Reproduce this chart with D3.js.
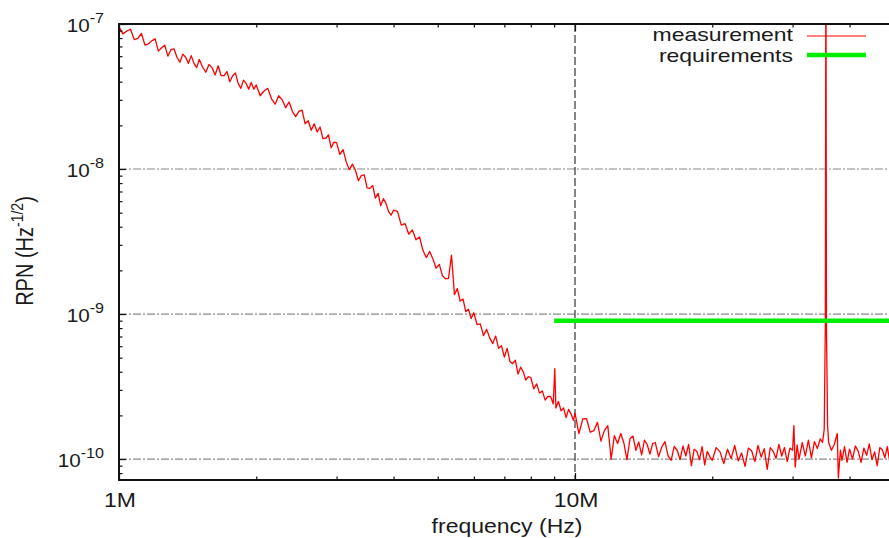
<!DOCTYPE html>
<html><head><meta charset="utf-8">
<script src="https://cdn.jsdelivr.net/npm/d3@7"></script>
<style>body{margin:0;background:#fff;} svg{display:block;}</style>
</head><body><svg id="c" width="889" height="538"></svg>
<script>
// ---- data (frequency in MHz, RPN in Hz^-1/2) ----
const freqMHz = [
  1.00,1.02,1.04,1.06,1.08,1.10,1.12,1.14,1.16,1.18,1.20,1.22,1.24,1.26,1.28,1.30,1.32,1.34,1.36,1.38,1.40,1.42,1.44,1.46,1.48,
  1.500,1.525,1.550,1.575,1.600,1.625,1.650,1.675,1.700,1.725,1.750,1.775,1.800,1.825,1.850,1.875,1.900,1.925,1.950,1.975,
  2.00,2.04,2.08,2.12,2.16,2.20,2.24,2.28,2.32,2.36,2.40,2.44,2.48,2.52,2.56,2.60,2.64,2.68,2.72,2.76,2.80,2.84,2.88,2.92,2.96,
  3.00,3.05,3.10,3.15,3.20,3.25,3.30,3.35,3.40,3.45,3.50,3.55,3.60,3.65,3.70,3.75,3.80,3.85,3.90,3.95,
  4.00,4.08,4.16,4.24,4.32,4.40,4.48,4.56,4.64,4.72,4.80,4.88,4.96,5.04,5.12,5.20,5.28,5.36,5.44,5.52,5.60,5.68,5.76,5.84,5.92,
  6.0,6.1,6.2,6.3,6.4,6.5,6.6,6.7,6.8,6.9,7.0,7.1,7.2,7.3,7.4,7.5,7.6,7.7,7.8,7.9,
  8.00,8.12,8.24,8.36,8.48,8.60,8.72,8.84,8.96,9.03,9.08,9.20,9.32,9.44,9.56,9.68,9.80,9.92,
  10.0,10.2,10.4,10.6,10.8,11.0,11.2,11.4,11.6,11.8,12.0,12.2,12.4,12.6,12.8,13.0,13.2,13.4,13.6,13.8,14.0,14.2,14.4,14.6,14.8,
  15.00,15.25,15.50,15.75,16.00,16.25,16.50,16.75,17.00,17.25,17.50,17.75,18.00,18.25,18.50,18.75,19.00,19.25,19.50,19.75,
  20.0,20.4,20.8,21.2,21.6,22.0,22.4,22.8,23.2,23.6,24.0,24.4,24.8,25.2,25.6,26.0,26.4,26.8,27.2,27.6,28.0,28.4,28.8,29.2,29.6,
  30.0,30.2,30.4,30.7,31.0,31.5,32.0,32.5,33.0,33.5,34.0,34.5,34.9,35.2,35.4,35.5,35.6,35.8,36.0,36.5,37.0,37.6,37.8,38.2,38.5,39.0,39.5,
  40.0,40.6,41.2,41.8,42.4,43.0,43.6,44.2,44.8,45.4,46.0,46.6,47.2,47.8,48.4,49.0,49.6
];
const rpn = [
  9.55e-8,8.55e-8,8.95e-8,9.2e-8,7.8e-8,7.95e-8,8.6e-8,7.15e-8,7.3e-8,7.65e-8,7.9e-8,6.5e-8,6.85e-8,7.15e-8,6.0e-8,6.65e-8,6.75e-8,5.9e-8,5.45e-8,6.2e-8,5.9e-8,5.35e-8,6.05e-8,5.35e-8,5.0e-8,
  5.7e-8,5.05e-8,4.65e-8,5.25e-8,5.0e-8,4.45e-8,5.15e-8,4.4e-8,4.4e-8,4.7e-8,4.0e-8,4.4e-8,4.6e-8,3.9e-8,3.6e-8,4.1e-8,3.9e-8,3.55e-8,3.95e-8,3.55e-8,
  3.8e-8,3.2e-8,3.45e-8,3.6e-8,3.05e-8,2.8e-8,3.2e-8,3.0e-8,2.65e-8,2.9e-8,2.5e-8,2.3e-8,2.5e-8,2.55e-8,2.05e-8,2.15e-8,1.85e-8,2.05e-8,1.8e-8,1.95e-8,1.62e-8,1.63e-8,1.72e-8,1.4e-8,1.53e-8,
  1.52e-8,1.26e-8,1.36e-8,1.12e-8,9.9e-9,1.08e-8,9.8e-9,8.3e-9,9.0e-9,9.1e-9,7.4e-9,7.35e-9,7.7e-9,6.3e-9,6.8e-9,5.6e-9,6.25e-9,5.8e-9,5.1e-9,4.8e-9,
  5.2e-9,5.1e-9,4.1e-9,4.2e-9,3.55e-9,3.8e-9,3.25e-9,3.4e-9,2.75e-9,2.45e-9,2.7e-9,2.4e-9,2.07e-9,2.2e-9,1.84e-9,1.75e-9,1.76e-9,2.55e-9,1.36e-9,1.5e-9,1.23e-9,1.27e-9,1.04e-9,1.08e-9,9.3e-10,
  1.02e-9,8.45e-10,8.55e-10,7.1e-10,7.85e-10,6.85e-10,6.25e-10,7.05e-10,5.8e-10,6.05e-10,5.05e-10,5.8e-10,4.7e-10,4.55e-10,4.8e-10,3.85e-10,4.3e-10,4.0e-10,3.5e-10,3.7e-10,
  3.65e-10,3.05e-10,3.3e-10,2.85e-10,2.95e-10,2.55e-10,2.7e-10,2.7e-10,2.4e-10,4.2e-10,2.25e-10,2.5e-10,2.15e-10,2.25e-10,1.93e-10,2.2e-10,2.05e-10,1.85e-10,
  2.07e-10,1.5e-10,1.89e-10,1.9e-10,1.53e-10,1.57e-10,1.79e-10,1.33e-10,1.57e-10,1.7e-10,1.0e-10,1.45e-10,1.28e-10,1.5e-10,1.29e-10,9.9e-11,1.38e-10,1.44e-10,1.15e-10,1.31e-10,1.07e-10,1.35e-10,1.26e-10,1.08e-10,1.28e-10,
  1.3e-10,1.04e-10,1.21e-10,1.32e-10,1.05e-10,9.8e-11,1.22e-10,1.15e-10,9.9e-11,1.23e-10,1.05e-10,1.26e-10,9.0e-11,1.17e-10,1.13e-10,9.9e-11,1.22e-10,9.1e-11,1.13e-10,1.04e-10,
  9.8e-11,1.2e-10,1.12e-10,9.3e-11,1.17e-10,1.01e-10,1.24e-10,9.7e-11,1.1e-10,8.9e-11,1.19e-10,1.14e-10,9.6e-11,1.24e-10,1.03e-10,1.18e-10,8.5e-11,1.2e-10,1.13e-10,1.01e-10,1.26e-10,1.05e-10,1.2e-10,9.6e-11,1.19e-10,
  1.15e-10,1.7e-10,8.8e-11,1.25e-10,1.0e-10,1.3e-10,1.05e-10,1.35e-10,1.02e-10,1.32e-10,1.18e-10,1.38e-10,1.3e-10,1.6e-10,8.5e-10,5e-7,8.3e-10,1.7e-10,1.3e-10,1.15e-10,1.25e-10,1.5e-10,7.4e-11,1.15e-10,9.8e-11,1.22e-10,9.5e-11,
  1.17e-10,1.0e-10,1.23e-10,1.13e-10,9.5e-11,1.19e-10,1.06e-10,1.27e-10,9.9e-11,1.12e-10,9.0e-11,1.2e-10,1.16e-10,1.02e-10,1.22e-10,9.6e-11,1.14e-10
];
const reqFreqMHz = [9, 50];
const reqLevel = [9e-10, 9e-10];
const xTickValues = [1, 10];
const xTickLabels = ["1M", "10M"];
const yTickValues = [1e-7, 1e-8, 1e-9, 1e-10];
const yTickExponents = ["-7", "-8", "-9", "-10"];
const legendLabels = ["measurement", "requirements"];
const xTitle = "frequency (Hz)";
const yTitleMain = "RPN (Hz", yTitleSup = "-1/2", yTitleEnd = ")";

// ---- layout ----
const W = 889, H = 538;
const L = 119, T = 24, B = 480;
const FONT = "'Liberation Sans', Arial, Helvetica, sans-serif";
const SX = 1.15; // horizontal stretch of the reference text
const svg = d3.select("#c");

const x = d3.scaleLog().domain([1, 50]).range([L, L + 456 * Math.log10(50)]);
const y = d3.scaleLog().domain([7.17e-11, 1e-7]).range([B, T]);

svg.append("defs").append("clipPath").attr("id", "clip")
  .append("rect").attr("x", L).attr("y", T).attr("width", W - L + 20).attr("height", B - T);

// grid
const grid = svg.append("g");
yTickValues.slice(1).forEach(v => {
  grid.append("line").attr("x1", L).attr("x2", W + 10).attr("y1", y(v)).attr("y2", y(v))
    .attr("stroke", "#8a8a8a").attr("stroke-width", 1.2).attr("stroke-dasharray", "8,2,2,2");
});
grid.append("line").attr("x1", x(10)).attr("x2", x(10)).attr("y1", T).attr("y2", B)
  .attr("stroke", "#333").attr("stroke-width", 1.2).attr("stroke-dasharray", "8,3");

// data
const pts = freqMHz.map((f, i) => [f, rpn[i]]);
const plot = svg.append("g").attr("clip-path", "url(#clip)");
plot.append("path").datum(pts)
  .attr("d", d3.line().x(d => x(d[0])).y(d => y(d[1])))
  .attr("fill", "none").attr("stroke", "#ff0000").attr("stroke-width", 1.3).attr("stroke-linejoin", "round");
plot.append("path").datum(reqFreqMHz.map((f, i) => [f, reqLevel[i]]))
  .attr("d", d3.line().x(d => x(d[0])).y(d => y(d[1])))
  .attr("fill", "none").attr("stroke", "#00ee00").attr("stroke-width", 4.5);

// axes ticks (inward)
const yMinor = y.ticks().filter(v => !yTickValues.some(m => Math.abs(m - v) / m < 1e-6));
const xMinor = x.ticks().filter(v => !xTickValues.includes(v));
function tickStyle(g) { g.select(".domain").remove(); g.selectAll("line").attr("stroke", "#111").attr("stroke-width", 1.2); g.selectAll("text").remove(); }
svg.append("g").attr("transform", `translate(${L},0)`).call(d3.axisLeft(y).tickValues(yTickValues).tickSize(-7).tickFormat("")).call(tickStyle);
svg.append("g").attr("transform", `translate(${L},0)`).call(d3.axisLeft(y).tickValues(yMinor).tickSize(-3.5).tickFormat("")).call(tickStyle);
svg.append("g").attr("transform", `translate(0,${B})`).call(d3.axisBottom(x).tickValues(xTickValues).tickSize(-7).tickFormat("")).call(tickStyle);
svg.append("g").attr("transform", `translate(0,${B})`).call(d3.axisBottom(x).tickValues(xMinor).tickSize(-3.5).tickFormat("")).call(tickStyle);
svg.append("g").attr("transform", `translate(0,${T})`).call(d3.axisTop(x).tickValues(xTickValues).tickSize(-7).tickFormat("")).call(tickStyle);
svg.append("g").attr("transform", `translate(0,${T})`).call(d3.axisTop(x).tickValues(xMinor).tickSize(-3.5).tickFormat("")).call(tickStyle);

// frame
const frame = svg.append("g").attr("stroke", "#111").attr("stroke-width", 2).attr("fill", "none");
frame.append("line").attr("x1", L).attr("x2", L).attr("y1", T - 1).attr("y2", B + 1);
frame.append("line").attr("x1", L - 1).attr("x2", W + 5).attr("y1", T).attr("y2", T);
frame.append("line").attr("x1", L - 1).attr("x2", W + 5).attr("y1", B).attr("y2", B);

// text helper (stretched horizontally like the reference)
function label(x0, y0, anchor, size, main, sup, supSize, supDy, after, rot, sx) {
  const t = svg.append("text")
    .attr("transform", `translate(${x0},${y0}) scale(${sx || SX},1)` + (rot ? ` rotate(${rot})` : ""))
    .attr("text-anchor", anchor).attr("font-size", size)
    .attr("font-family", FONT).attr("fill", "#1a1a1a");
  t.append("tspan").text(main);
  if (sup) {
    t.append("tspan").attr("dy", -supDy).attr("font-size", supSize).text(sup);
    if (after) t.append("tspan").attr("dy", supDy).attr("font-size", size).text(after);
  }
  return t;
}

// y tick labels
yTickValues.forEach((v, i) => label(104, y(v) + 8, "end", 18, "10", yTickExponents[i], 14, 9));
// x tick labels
xTickValues.forEach((v, i) => label(x(v) + 1, 507, "middle", 20, xTickLabels[i]));
// axis titles
label(507, 533, "middle", 20, xTitle);
label(33, 251, "middle", 20, yTitleMain, yTitleSup, 14, 9, yTitleEnd, -90);

// legend
label(793, 41, "end", 19, legendLabels[0], null, 0, 0, null, 0, 1.21);
label(793, 62, "end", 19, legendLabels[1], null, 0, 0, null, 0, 1.21);
svg.append("line").attr("x1", 807).attr("x2", 866).attr("y1", 36).attr("y2", 36)
  .attr("stroke", "#ff0000").attr("stroke-width", 1);
svg.append("line").attr("x1", 807).attr("x2", 866).attr("y1", 55).attr("y2", 55)
  .attr("stroke", "#00ee00").attr("stroke-width", 4.5);
</script></body></html>
